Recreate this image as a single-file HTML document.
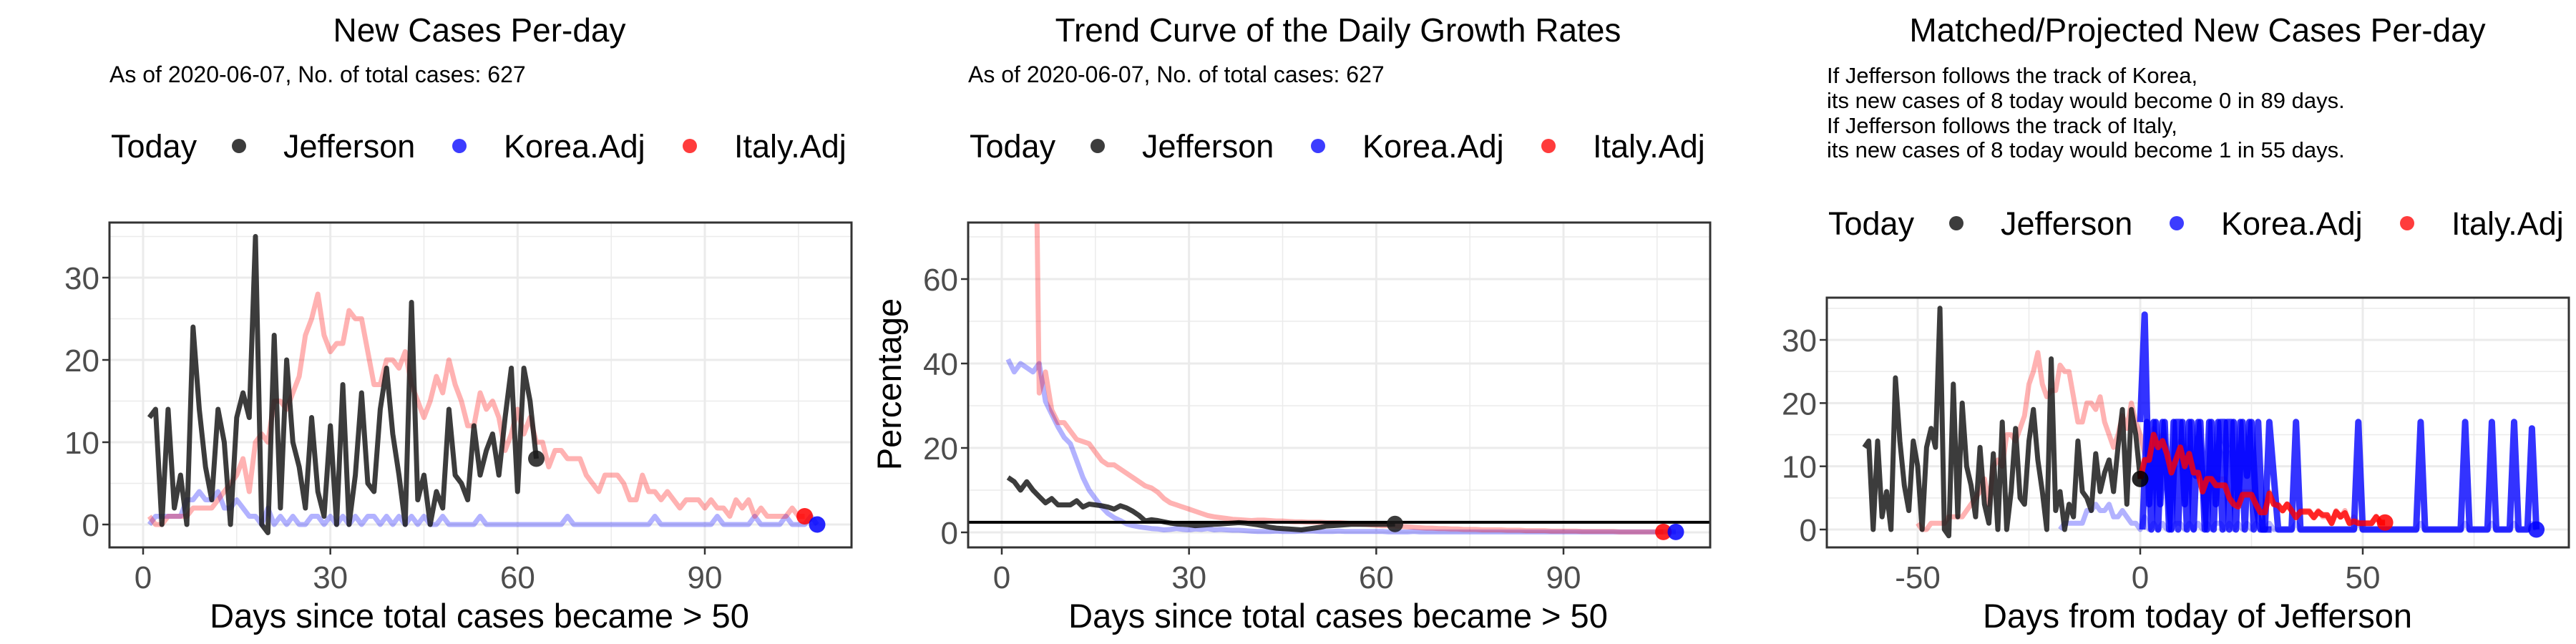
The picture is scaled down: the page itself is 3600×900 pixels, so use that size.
<!DOCTYPE html>
<html><head><meta charset="utf-8"><style>
html,body{margin:0;padding:0;background:#fff;}
svg{display:block;font-family:"Liberation Sans",Arial,sans-serif;}
</style></head><body>
<svg id="chart" width="3600" height="900" viewBox="0 0 3600 900" xmlns="http://www.w3.org/2000/svg"></svg>
<script>
// ---------- data ----------
const jeffCases = [13,14,0,14,2,6,0,24,14,7, 3,14,10,0,13,16,13,35,0,-1, 23,2,20,10,7,2,13,4,1,12, 0,17,0,6,16,5,4,14,19,11, 6,0,27,3,6,0,4,2,14,6, 5,3,12,6,9,11,6,13,19,4, 19,15,8];
const koreaCases = [0,1,1,1,1,1,3,3,4,3, 3,4,2,2,3,2,1,1,0,2, 0,1,0,1,0,0,1,1,0,1, 0,1,0,1,0,1,1,0,1,0, 1,0,1,0,1,0,0,1,0,0, 0,0,0,1,0,0,0,0,0,0, 0,0,0,0,0,0,0,1,0,0, 0,0,0,0,0,0,0,0,0,0, 0,1,0,0,0,0,0,0,0,0, 0,1,0,0,0,0,0,1,0,0, 0,0,1,0,0,0,1,0];
const italyCases = [1,0,0,1,1,1,1,2,2,2, 2,3,4,5,6,8,4,10,11,10, 15,15,14,16,18,23,25,28,23,21, 22,22,26,25,25,21,17,17,20,20, 19,21,17,15,13,15,18,16,20,17, 15,12,12,16,14,15,13,9,11,14, 11,13,10,10,7,9,9,8,8,8, 6,5,4,6,6,6,5,3,3,6, 4,4,3,4,3,2,3,3,3,2, 3,2,2,1,3,2,3,1,2,1, 1,1,1,2,1,1];
const jeffGrowth = [13,12,10,12,10,8.5,7,8,6.5,6.5, 6.5,7.5,6,6.7,6.5,6.3,6,5.5,6.3,5.8, 5,4,2.7,3,2.8,2.5,2.2,2,1.9,1.8, 1.6,1.7,1.8,1.9,2,2.1,2.2,2.3,2.2,2, 1.8,1.5,1.2,1,0.9,0.8,0.7,0.6,0.8,1, 1.2,1.5,1.6,1.7,1.8,1.9,1.9,1.9,1.9,1.9, 1.9,1.9,2];
const koreaGrowth = [41,38,40,39,38,40,31,28,25,22.5, 21,17,13,10,8,6,4.5,3.5,2.8,2, 1.6,1.3,1.1,0.9,0.8,0.6,0.7,0.9,0.7,0.6, 0.8,0.7,0.9,0.6,0.7,0.6,0.5,0.5,0.4,0.3, 0.2,0.2,0.2,0.3,0.2,0.2,0.2, 0.3,0.3,0.3,0.2,0.2,0.2,0.3,0.2,0.2,0.2, 0.2,0.2,0.2,0.2,0.1,0.1,0.1,0.1,0.2,0.1, 0.1,0.1,0.1,0.1,0.1,0.1,0.1,0.1,0.1,0.1, 0.1,0.1,0.1,0.1,0.1,0.1,0.1,0.1,0.1,0.1, 0.1,0.1,0.1,0.1,0.1,0.1,0.1,0.1,0.1,0.1, 0.1,0.1,0.1,0.1,0.1,0.1,0.1,0.1,0.1,0.1, 0.1];
const italyGrowth = [150,150,150,150,150, 33,38,29,26,26,24,22,21.5,21,19, 17,16,16,15,14,13,12,11,10.5,9.5, 8,7,6.5,6,5.5,5,4.5,4,3.7,3.5, 3.3,3.1,3,2.9,2.8,2.9,2.9,2.8,2.7,2.7, 2.6,2.5,2.5,2.4, 2.4,2.4,2.3,2.3,2.3,2.2,2.1,2.0,1.9,1.8, 1.7,1.6,1.6,1.5,1.4,1.3,1.2,1.1,1.0,1.0, 0.9,0.9,0.8,0.8,0.7,0.7,0.7,0.6,0.6,0.6, 0.6,0.5,0.5,0.5,0.4,0.4,0.4,0.4,0.3,0.3, 0.3,0.3,0.3,0.2,0.2,0.2,0.2,0.2,0.2,0.1, 0.1,0.1,0.1,0.1,0.1,0.1,0.1];
const growthRef = 2.4;
const koreaProj = [17,34,4,17,0,17,8.5,0,17,17, 4,17,0,17,8.5,0,17,4,17,17, 0,17,4,17,8.5,17,4,0,0,17, 8.5,0,0,0,0,17,0,0,0,0, 0,0,0,0,0,0,0,0,0,17, 0,0,0,0,0,0,0,0,0,0, 0,0,0,17,0,0,0,0,0,0, 0,0,0,17,0,0,0,0,0,17, 0,0,0,0,17,0,0,0,16,0];
const koreaProjMid = [0,17,0,17,4,17,0,17,0,17, 0,17,8.5,17,0,17,0,17,0,17, 17,0,17,0,17,0,17,0,0,0];
const italyProj = [8,11,11,15,13,14,12,9,11,13, 10,12,9,9,6,8,8,7,7,7, 5,4,3.6,5.5,5.5,5.5,4,2.7,2.7,5.7, 4,3.8,3,4,3,1.9,2.8,2.8,2.8,1.9, 2.8,2.3,2.3,1,2.8,2,2.6,1,1.3,1, 1,1,1,2,1.1,1.1];
const jeffShift = 63, koreaShift = 19, italyShift = 51;
const xTicks1 = [0,30,60,90];
const yTicks1 = [0,10,20,30];
const yTicks2 = [0,20,40,60];
const xTicks3 = [-50,0,50];

// ---------- helpers ----------
const NS = "http://www.w3.org/2000/svg";
const svg = document.getElementById('chart');
const LW = 7;
function el(tag, attrs, parent, text){
  const e = document.createElementNS(NS, tag);
  for (const k in attrs) e.setAttribute(k, attrs[k]);
  if (text !== undefined) e.textContent = text;
  (parent || svg).appendChild(e);
  return e;
}
function lin(d0,d1,r0,r1){ return v => r0 + (v-d0)*(r1-r0)/(d1-d0); }

function panel(id, box, xs, ys, xMaj, xMin, yMaj, yMin){
  const g = el('g', {});
  
  
  el('rect', {x:box.l, y:box.t, width:box.r-box.l, height:box.b-box.t, fill:'#fff'}, g);
  const cp = el('clipPath', {id:'clip-'+id}, g);
  el('rect', {x:box.l, y:box.t, width:box.r-box.l, height:box.b-box.t}, cp);
  const grid = el('g', {}, g);
  
  
  xMin.forEach(v=>{const X=xs(v); if(X>box.l&&X<box.r) el('line',{x1:X,x2:X,y1:box.t,y2:box.b,stroke:'#ebebeb','stroke-width':1.5},grid);});
  yMin.forEach(v=>{const Y=ys(v); if(Y>box.t&&Y<box.b) el('line',{x1:box.l,x2:box.r,y1:Y,y2:Y,stroke:'#ebebeb','stroke-width':1.5},grid);});
  xMaj.forEach(v=>{const X=xs(v); el('line',{x1:X,x2:X,y1:box.t,y2:box.b,stroke:'#ebebeb','stroke-width':3},grid);});
  yMaj.forEach(v=>{const Y=ys(v); el('line',{x1:box.l,x2:box.r,y1:Y,y2:Y,stroke:'#ebebeb','stroke-width':3},grid);});
  const plot = el('g', {'clip-path':'url(#clip-'+id+')'}, g);
  const ax = el('g', {}, g);
  
  
  xMaj.forEach(v=>{const X=xs(v);
    el('line',{x1:X,x2:X,y1:box.b,y2:box.b+10,stroke:'#333','stroke-width':2.5},ax);
    const t = el('text',{x:X,y:box.b+57,'text-anchor':'middle','font-size':44,fill:'#4d4d4d'},ax,String(v));
    
    
  });
  const ay = el('g', {}, g);
  
  
  yMaj.forEach(v=>{const Y=ys(v);
    el('line',{x1:box.l-10,x2:box.l,y1:Y,y2:Y,stroke:'#333','stroke-width':2.5},ay);
    const t = el('text',{x:box.l-14,y:Y+16,'text-anchor':'end','font-size':44,fill:'#4d4d4d'},ay,String(v));
    
    
  });
  el('rect',{x:box.l,y:box.t,width:box.r-box.l,height:box.b-box.t,fill:'none',stroke:'#333','stroke-width':3},g);
  return plot;
}
function series(plot, xs, ys, vals, xOf, color, op, w, name){
  const d = vals.map((v,i)=>(i?'L':'M')+xs(xOf(i)).toFixed(1)+','+ys(v).toFixed(1)).join('');
  const p = el('path',{d:d,fill:'none',stroke:color,'stroke-opacity':op,'stroke-width':w,'stroke-linejoin':'round'},plot);
  
  
  return p;
}
function dot(plot, X, Y, color, name){
  const c = el('circle',{cx:X,cy:Y,r:11.5,fill:color,'fill-opacity':0.85},plot);
  
  
}
function text(x,y,s,size,anchor,name,fill){
  const t = el('text',{x:x,y:y,'font-size':size,'text-anchor':anchor||'start',fill:fill||'#000'},svg,s);
  
  
  return t;
}
function legend(y, xToday, dots, labels, prefix){
  text(xToday, y+16, 'Today', 45, 'start', prefix+'-legend-title');
  const cols = ['#1a1a1a','#1a1aff','#ff1a1a'];
  const names = ['Jefferson','Korea.Adj','Italy.Adj'];
  for (let i=0;i<3;i++){
    const c = el('circle',{cx:dots[i],cy:y,r:10,fill:cols[i],'fill-opacity':0.85});
    
    
    text(labels[i], y+16, names[i], 45, 'start', prefix+'-legend-entry-'+names[i].toLowerCase().replace('.','-'));
  }
}
const idx = i=>i+1;

// ---------- panel 1 ----------
{
  const box={l:153,r:1190,t:311,b:765};
  const xs=lin(0,90,200,985), ys=lin(0,30,733,388);
  const p=panel('panel-new-cases',box,xs,ys,xTicks1,[15,45,75,105],yTicks1,[5,15,25,35]);
  series(p,xs,ys,koreaCases,idx,'#0000ff',0.3,LW,'korea-line');
  series(p,xs,ys,italyCases,idx,'#ff0000',0.3,LW,'italy-line');
  series(p,xs,ys,jeffCases,idx,'#1a1a1a',0.85,LW,'jefferson-line');
  dot(p,xs(jeffCases.length),ys(jeffCases[jeffCases.length-1]),'#1a1a1a','jefferson-today-point');
  dot(p,xs(italyCases.length),ys(italyCases[italyCases.length-1]),'#ff0000','italy-today-point');
  dot(p,xs(koreaCases.length),ys(koreaCases[koreaCases.length-1]),'#0000ff','korea-today-point');
  text(670,58,'New Cases Per-day',46,'middle','panel1-title');
  text(153,115,'As of 2020-06-07, No. of total cases: 627',32,'start','panel1-subtitle');
  legend(204,155,[334,642,964],[396,704,1026],'panel1');
  text(670,877,'Days since total cases became > 50',47,'middle','panel1-x-axis-title');
}
// ---------- panel 2 ----------
{
  const box={l:1353,r:2390,t:311,b:765};
  const xs=lin(0,90,1400,2185), ys=lin(0,60,744,390);
  const p=panel('panel-growth',box,xs,ys,xTicks1,[15,45,75,105],yTicks2,[10,30,50,70]);
  series(p,xs,ys,koreaGrowth,idx,'#0000ff',0.3,LW,'korea-growth-line');
  series(p,xs,ys,italyGrowth,idx,'#ff0000',0.3,LW,'italy-growth-line');
  series(p,xs,ys,jeffGrowth,idx,'#1a1a1a',0.85,LW,'jefferson-growth-line');
  const hl=el('line',{x1:box.l,x2:box.r,y1:ys(growthRef),y2:ys(growthRef),stroke:'#000','stroke-width':4},p);
  
  
  dot(p,xs(jeffGrowth.length),ys(jeffGrowth[jeffGrowth.length-1]),'#1a1a1a','jefferson-today-point');
  dot(p,xs(italyGrowth.length),ys(italyGrowth[italyGrowth.length-1]),'#ff0000','italy-today-point');
  dot(p,xs(koreaGrowth.length),ys(koreaGrowth[koreaGrowth.length-1]),'#0000ff','korea-today-point');
  text(1870,58,'Trend Curve of the Daily Growth Rates',46,'middle','panel2-title');
  text(1353,115,'As of 2020-06-07, No. of total cases: 627',32,'start','panel2-subtitle');
  legend(204,1355,[1534,1842,2164],[1596,1904,2226],'panel2');
  text(1870,877,'Days since total cases became > 50',47,'middle','panel2-x-axis-title');
  const yt=text(0,0,'Percentage',47,'middle','panel2-y-axis-title');
  yt.setAttribute('transform','translate(1259,537) rotate(-90)');
}
// ---------- panel 3 ----------
{
  const box={l:2553,r:3590,t:416,b:765};
  const xs=lin(0,50,2991,3302), ys=lin(0,30,740,475);
  const p=panel('panel-projection',box,xs,ys,xTicks3,[-75,-25,25,75],yTicks1,[5,15,25,35]);
  series(p,xs,ys,koreaCases,i=>i+1-koreaShift,'#0000ff',0.3,LW,'korea-matched-line');
  series(p,xs,ys,italyCases,i=>i+1-italyShift,'#ff0000',0.3,LW,'italy-matched-line');
  series(p,xs,ys,jeffCases,i=>i+1-jeffShift,'#1a1a1a',0.85,LW,'jefferson-line');
  series(p,xs,ys,koreaProjMid,i=>i+0.5,'#0000ff',0.8,9,'korea-projected-line-halfday');
  series(p,xs,ys,koreaProj,i=>i,'#0000ff',0.8,9,'korea-projected-line');
  series(p,xs,ys,italyProj,i=>i,'#ff0000',0.8,8,'italy-projected-line');
  dot(p,xs(0),ys(jeffCases[jeffCases.length-1]),'#000','jefferson-today-point');
  dot(p,xs(italyProj.length-1),ys(italyProj[italyProj.length-1]),'#ff0000','italy-projected-end-point');
  dot(p,xs(koreaProj.length-1),ys(koreaProj[koreaProj.length-1]),'#0000ff','korea-projected-end-point');
  text(3071,58,'Matched/Projected New Cases Per-day',46,'middle','panel3-title');
  text(2553,116,'If Jefferson follows the track of Korea,',31,'start','panel3-note-line1');
  text(2553,151,'its new cases of 8 today would become 0 in 89 days.',31,'start','panel3-note-line2');
  text(2553,186,'If Jefferson follows the track of Italy,',31,'start','panel3-note-line3');
  text(2553,220,'its new cases of 8 today would become 1 in 55 days.',31,'start','panel3-note-line4');
  legend(312,2555,[2734,3042,3364],[2796,3104,3426],'panel3');
  text(3071,877,'Days from today of Jefferson',47,'middle','panel3-x-axis-title');
}
</script>
</body></html>
